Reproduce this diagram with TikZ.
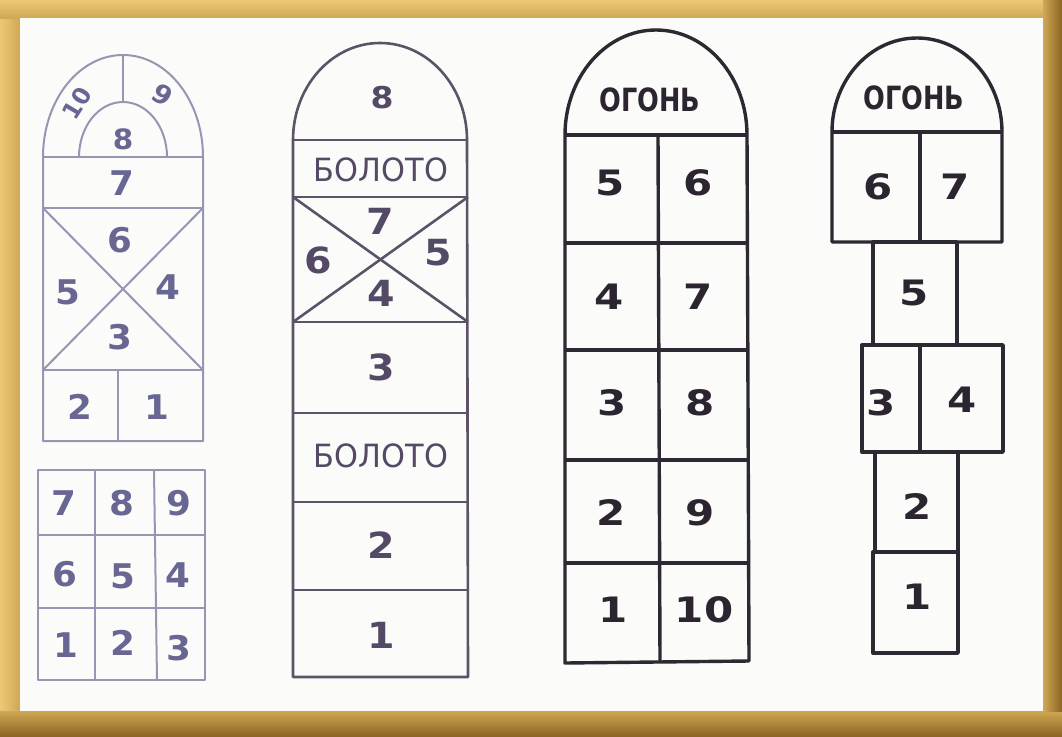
\documentclass[tikz,border=0pt]{standalone}
\usepackage{fontspec}
\setmainfont{DejaVu Sans}
\begin{document}
\begin{tikzpicture}[x=1pt,y=-1pt]
\definecolor{gold}{RGB}{208,168,84}
\definecolor{goldlight}{RGB}{236,200,118}
\definecolor{golddark}{RGB}{140,100,36}
\definecolor{paper}{RGB}{251,252,250}
\definecolor{aline}{RGB}{150,150,178}
\definecolor{atext}{RGB}{104,102,146}
\definecolor{bline}{RGB}{92,84,102}
\definecolor{btext}{RGB}{84,74,102}
\definecolor{cline}{RGB}{46,40,50}
\definecolor{ctext}{RGB}{44,36,46}
\tikzset{
  lineA/.style={draw=aline, line width=2pt, line join=round},
  lineB/.style={draw=bline, line width=2.6pt, line join=round},
  lineC/.style={draw=cline, line width=3.4pt, line join=round},
  digA/.style={text=atext, inner sep=0pt, font=\fontsize{34}{34}\selectfont\bfseries, xscale=1.05},
  digB/.style={text=btext, inner sep=0pt, font=\fontsize{36}{36}\selectfont\bfseries, xscale=1.1},
  digC/.style={text=ctext, inner sep=0pt, font=\fontsize{35}{35}\selectfont\bfseries, xscale=1.2},
  wordB/.style={text=btext, inner sep=0pt, font=\fontsize{32}{32}\selectfont, xscale=0.95},
  wordC/.style={text=ctext, inner sep=0pt, font=\fontsize{32}{32}\selectfont\bfseries, xscale=0.8}
}
\useasboundingbox (0,0) rectangle (1062,736);
% frame
\fill[gold] (0,0) rectangle (1062,736);
\shade[left color=goldlight, right color=gold] (0,0) rectangle (20,736);
\shade[top color=goldlight, bottom color=gold] (0,0) rectangle (1062,18);
\shade[top color=gold, bottom color=golddark] (0,711) rectangle (1062,736);
\shade[left color=gold, right color=golddark] (1043,0) rectangle (1062,711);
\fill[paper] (20,18) rectangle (1043,711);

% ---------- diagram 1 ----------
\draw[lineA] (43,441) -- (43,157) arc[start angle=180, end angle=0, x radius=80pt, y radius=102pt] -- (203,441) -- cycle;
\draw[lineA] (79,157) arc[start angle=180, end angle=0, x radius=44pt, y radius=55pt];
\draw[lineA] (123,55) -- (123,102);
\draw[lineA] (43,157) -- (203,157);
\draw[lineA] (43,208) -- (203,208);
\draw[lineA] (43,370) -- (203,370);
\draw[lineA] (43,208) -- (203,370);
\draw[lineA] (203,208) -- (43,370);
\draw[lineA] (118,370) -- (118,441);
\node[digA, font=\fontsize{23}{23}\selectfont\bfseries, rotate=58] (a10) at (77,103) {10};
\node[digA, font=\fontsize{26}{26}\selectfont\bfseries, rotate=-30] (a9) at (163,95) {9};
\node[digA, font=\fontsize{28}{28}\selectfont\bfseries] (a8) at (123,139) {8};
\node[digA] (a7) at (122,183) {7};
\node[digA] (a6) at (120,240) {6};
\node[digA] (a5) at (68,292) {5};
\node[digA] (a4) at (168,287) {4};
\node[digA] (a3) at (120,337) {3};
\node[digA] (a2) at (80,407) {2};
\node[digA] (a1) at (157,407) {1};
% grid
\draw[lineA] (38,470) rectangle (205,680);
\draw[lineA] (38,535) -- (205,535);
\draw[lineA] (38,608) -- (205,608);
\draw[lineA] (95,470) -- (95,680);
\draw[lineA] (154,470) -- (157,680);
\node[digA] (g7) at (64,503) {7};
\node[digA] (g8) at (122,503) {8};
\node[digA] (g9) at (179,503) {9};
\node[digA] (g6) at (65,574) {6};
\node[digA] (g5) at (123,576) {5};
\node[digA] (g4) at (178,575) {4};
\node[digA] (g1) at (66,645) {1};
\node[digA] (g2) at (123,643) {2};
\node[digA] (g3) at (179,648) {3};

% ---------- diagram 2 ----------
\draw[lineB] (293,677) -- (293,140) arc[start angle=180, end angle=0, x radius=87pt, y radius=97pt] -- (468,677) -- cycle;
\foreach \yy in {140,197,322,413,502,590} \draw[lineB] (293,\yy) -- (468,\yy);
\draw[lineB] (293,197) -- (468,322);
\draw[lineB] (468,197) -- (293,322);
\node[digB, font=\fontsize{30}{30}\selectfont\bfseries] (b8) at (382,98) {8};
\node[wordB] (bb1) at (381,170) {БОЛОТО};
\node[digB] (b7) at (380,221) {7};
\node[digB] (b6) at (318,260) {6};
\node[digB] (b5) at (438,253) {5};
\node[digB] (b4) at (381,293) {4};
\node[digB] (b3) at (381,367) {3};
\node[wordB] (bb2) at (381,456) {БОЛОТО};
\node[digB] (b2) at (381,545) {2};
\node[digB] (b1) at (381,635) {1};

% ---------- diagram 3 ----------
\draw[lineC] (565,663) -- (565,135) arc[start angle=180, end angle=0, x radius=91pt, y radius=105pt] -- (749,661) -- cycle;
\foreach \yy in {135,243,350,460,563} \draw[lineC] (565,\yy) -- (748,\yy);
\draw[lineC] (658,135) -- (660,662);
\node[wordC] (co) at (650,100) {ОГОНЬ};
\node[digC] (c5) at (610,183) {5};
\node[digC] (c6) at (698,183) {6};
\node[digC] (c4) at (609,297) {4};
\node[digC] (c7) at (698,297) {7};
\node[digC] (c3) at (612,403) {3};
\node[digC] (c8) at (700,403) {8};
\node[digC] (c2) at (611,513) {2};
\node[digC] (c9) at (700,513) {9};
\node[digC] (c1) at (613,610) {1};
\node[digC] (c10) at (704,610) {10};

% ---------- diagram 4 ----------
\draw[lineC] (832,242) -- (832,132) arc[start angle=180, end angle=0, x radius=85pt, y radius=94pt] -- (1002,242) -- cycle;
\draw[lineC] (832,132) -- (1002,132);
\draw[lineC] (920,132) -- (920,242);
\draw[lineC] (873,242) rectangle (957,345);
\draw[lineC] (862,345) rectangle (1003,452);
\draw[lineC] (920,345) -- (920,452);
\draw[lineC] (875,452) rectangle (958,552);
\draw[lineC] (873,552) rectangle (958,653);
\node[wordC] (do) at (914,98) {ОГОНЬ};
\node[digC] (d6) at (878,187) {6};
\node[digC] (d7) at (955,187) {7};
\node[digC] (d5) at (914,293) {5};
\node[digC] (d3) at (881,403) {3};
\node[digC] (d4) at (962,400) {4};
\node[digC] (d2) at (917,507) {2};
\node[digC] (d1) at (917,597) {1};
\end{tikzpicture}
\end{document}
